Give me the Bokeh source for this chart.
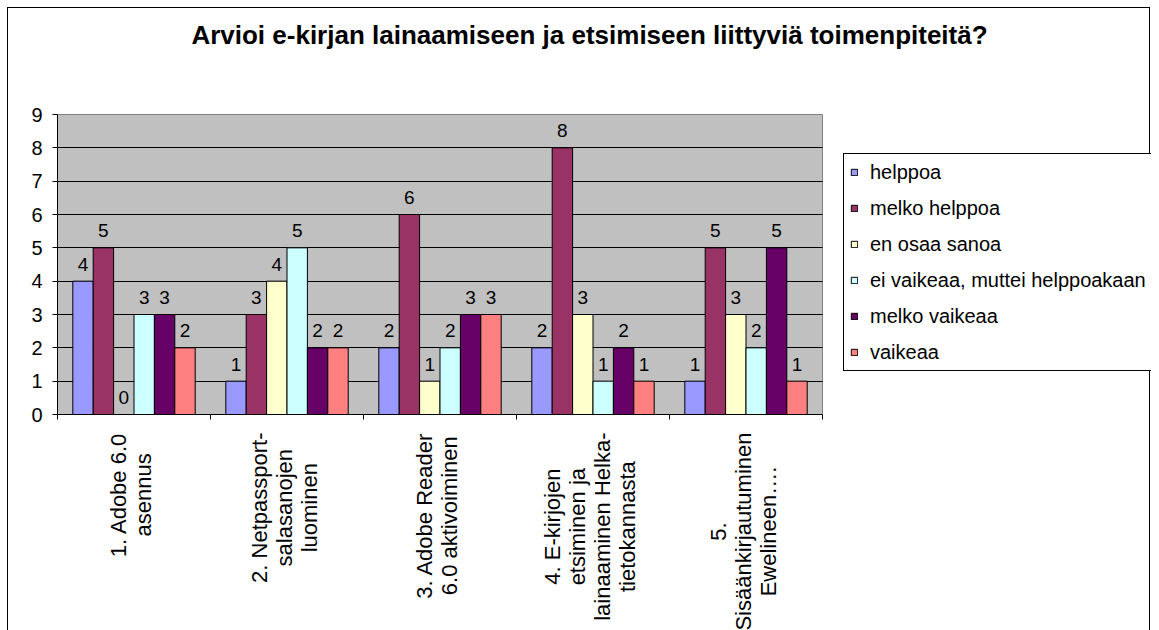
import math
from bokeh.plotting import figure
from bokeh.models import (ColumnDataSource, FixedTicker, Legend, LegendItem, Label,
                          Range1d, BoxAnnotation)
from bokeh.transform import dodge
from bokeh.core.properties import value
from bokeh.embed import file_html
from bokeh.resources import INLINE

# ---- data ----
title_text = "Arvioi e-kirjan lainaamiseen ja etsimiseen liittyviä toimenpiteitä?"
categories = [
    "1. Adobe 6.0\nasennus",
    "2. Netpassport-\nsalasanojen\nluominen",
    "3. Adobe Reader\n6.0 aktivoiminen",
    "4. E-kirjojen\netsiminen ja\nlainaaminen Helka-\ntietokannasta",
    "5.\nSisäänkirjautuminen\nEwelineen….",
]
series_names = ["helppoa", "melko helppoa", "en osaa sanoa",
                "ei vaikeaa, muttei helppoakaan", "melko vaikeaa", "vaikeaa"]
helppoa = [4, 1, 2, 2, 1]
melko_helppoa = [5, 3, 6, 8, 5]
en_osaa_sanoa = [0, 4, 1, 3, 3]
ei_vaikeaa = [3, 5, 2, 1, 2]
melko_vaikeaa = [3, 2, 3, 2, 5]
vaikeaa = [2, 2, 3, 1, 1]
series_values = [helppoa, melko_helppoa, en_osaa_sanoa, ei_vaikeaa, melko_vaikeaa, vaikeaa]
colors = ["#9999FF", "#993366", "#FFFFCC", "#CCFFFF", "#660066", "#FF8080"]
y_ticks = list(range(0, 10))
y_max = 9

FONT = "Liberation Sans"
n_cat = len(categories)
centers = [i + 0.5 for i in range(n_cat)]
bw = 1.0 / 7.5  # Excel gap width 150%

# layout (pixels): canvas 1143x625, plot area 49..814 x 106..406
W, H = 1143, 625
PL, PR, PT, PB = 49, 814, 106, 406
ux = (PR - PL) / n_cat
uy = (PB - PT) / y_max

p = figure(width=W, height=H, output_backend="svg", toolbar_location=None,
           x_range=Range1d(-PL / ux, (W - PL) / ux),
           y_range=Range1d(-(H - PB) / uy, y_max + PT / uy),
           min_border=0, min_border_left=0, min_border_right=0,
           min_border_top=0, min_border_bottom=0,
           background_fill_color="white", border_fill_color="white",
           outline_line_color=None)
p.styles = {"border": "1px solid black", "position": "relative",
            "left": "7px", "top": "7px"}

# plot area
p.add_layout(BoxAnnotation(left=0, right=n_cat, bottom=0, top=y_max,
                           fill_color="#C0C0C0", fill_alpha=1,
                           line_color="#808080", line_width=1, line_alpha=1,
                           level="image"))

p.xgrid.visible = False
p.ygrid.ticker = FixedTicker(ticks=y_ticks[1:-1])
p.ygrid.grid_line_color = "black"
p.ygrid.grid_line_width = 1
if "cross_bounds" in p.ygrid[0].properties():
    p.ygrid.cross_bounds = (0, n_cat)

legend_items = []
for i, (name, vals, col) in enumerate(zip(series_names, series_values, colors)):
    src = ColumnDataSource(dict(x=centers, top=vals, lab=[str(v) for v in vals]))
    off = (i - 2.5) * bw
    r = p.vbar(x=dodge("x", off), top="top", bottom=0, width=bw, source=src,
               fill_color=col, line_color="black", line_width=1)
    p.text(x=dodge("x", off), y="top", text="lab", source=src,
           text_align="center", text_baseline="alphabetic", y_offset=-17,
           text_font=value(FONT), text_font_size="19px", text_color="black")
    legend_items.append(LegendItem(label=name, renderers=[r]))

# axes
p.yaxis.fixed_location = 0
p.yaxis.bounds = (0, y_max)
p.yaxis.ticker = FixedTicker(ticks=y_ticks)
p.yaxis.axis_line_color = "black"
p.yaxis.major_tick_line_color = "black"
p.yaxis.major_tick_out = 5
p.yaxis.major_tick_in = 0
p.yaxis.minor_tick_line_color = None
p.yaxis.major_label_text_font = FONT
p.yaxis.major_label_text_font_size = "20px"
p.yaxis.major_label_text_color = "black"
p.yaxis.major_label_standoff = 10

p.xaxis.fixed_location = 0
p.xaxis.bounds = (0, n_cat)
p.xaxis.ticker = FixedTicker(ticks=[], minor_ticks=list(range(n_cat + 1)))
p.xaxis.axis_line_color = "black"
p.xaxis.major_tick_line_color = None
p.xaxis.minor_tick_line_color = "black"
p.xaxis.minor_tick_out = 5
p.xaxis.minor_tick_in = 0
p.xaxis.major_label_text_font_size = "0px"

# category labels, rotated, lines centred
cat_src = ColumnDataSource(dict(x=centers, y=[0] * n_cat, t=categories))
p.text(x="x", y="y", text="t", source=cat_src, angle=math.pi / 2,
       anchor="center_right", text_align="center", y_offset=18, x_offset=-3,
       text_font=value(FONT), text_font_size="22px", text_color="black",
       text_line_height=1.0)

legend = Legend(items=legend_items, location=(PR + 21, 262),
                label_text_font=FONT, label_text_font_size="20px",
                label_text_color="black",
                glyph_width=8, glyph_height=8, label_height=24, spacing=12,
                padding=6, margin=0, label_standoff=12,
                border_line_color="black", border_line_width=1, border_line_alpha=1,
                background_fill_color="white", background_fill_alpha=1)
p.add_layout(legend, "center")

title = Label(x=581, y=H - 26, x_units="screen", y_units="screen", text=title_text,
              text_align="center", text_baseline="middle",
              text_font=FONT, text_font_size="26px", text_font_style="bold",
              text_color="black")
p.add_layout(title)

open("out.html", "w").write(file_html(p, INLINE))
